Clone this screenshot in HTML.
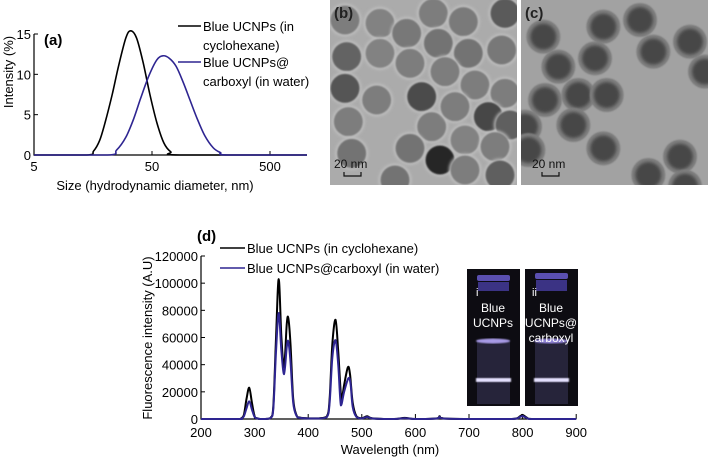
<!DOCTYPE html>
<html><head><meta charset="utf-8">
<style>
html,body{margin:0;padding:0;background:#fff;}
svg{display:block;font-family:"Liberation Sans",Arial,sans-serif;}
</style></head>
<body>
<svg id="fig" width="710" height="460" viewBox="0 0 710 460" xmlns="http://www.w3.org/2000/svg">
<defs>
<filter id="blur1"><feGaussianBlur stdDeviation="0.8"/></filter>
<filter id="blur2"><feGaussianBlur stdDeviation="1.5"/></filter>
</defs>
<g id="pa">
  <text x="44" y="45" font-size="15" font-weight="bold">(a)</text>
  <text transform="translate(13,72) rotate(-90)" text-anchor="middle" font-size="13">Intensity (%)</text>
  <text x="155" y="190" text-anchor="middle" font-size="13">Size (hydrodynamic diameter, nm)</text>
  <g id="pa-axes"></g>
  <g id="pa-lines"></g>
  <line x1="178" y1="26" x2="201" y2="26" stroke="#000" stroke-width="1.5"/>
  <text x="203" y="31" font-size="13">Blue UCNPs (in</text>
  <text x="203" y="50" font-size="13">cyclohexane)</text>
  <line x1="178" y1="62" x2="201" y2="62" stroke="#2e2591" stroke-width="1.5"/>
  <text x="203" y="67" font-size="13">Blue UCNPs@</text>
  <text x="203" y="86" font-size="13">carboxyl (in water)</text>
</g>
<g>
  <clipPath id="cb"><rect x="330" y="0" width="187" height="185"/></clipPath>
  <rect x="330" y="0" width="187" height="185" fill="#ababab"/>
  <g id="tb" clip-path="url(#cb)"></g>
  <text x="334" y="18" font-size="15" font-weight="bold" fill="#222">(b)</text>
  <text x="334" y="168" font-size="12" fill="#111">20 nm</text>
  <path d="M344 172 v4 h17 v-4" stroke="#111" stroke-width="1.2" fill="none"/>
</g>
<g>
  <clipPath id="cc"><rect x="521" y="0" width="187" height="185"/></clipPath>
  <rect x="521" y="0" width="187" height="185" fill="#a2a2a2"/>
  <g id="tc" clip-path="url(#cc)"></g>
  <text x="525" y="18" font-size="15" font-weight="bold" fill="#222">(c)</text>
  <text x="532" y="168" font-size="12" fill="#111">20 nm</text>
  <path d="M542 172 v4 h17 v-4" stroke="#111" stroke-width="1.2" fill="none"/>
</g>
<g>
  <text x="197" y="241" font-size="15" font-weight="bold">(d)</text>
  <text transform="translate(152,338) rotate(-90)" text-anchor="middle" font-size="13">Fluorescence intensity (A.U)</text>
  <text x="390" y="454" text-anchor="middle" font-size="13">Wavelength (nm)</text>
  <g id="pd-axes"></g>
  <g id="pd-lines"></g>
  <line x1="220" y1="248" x2="245" y2="248" stroke="#000" stroke-width="1.5"/>
  <text x="247" y="253" font-size="13">Blue UCNPs (in cyclohexane)</text>
  <line x1="220" y1="268" x2="245" y2="268" stroke="#2e2591" stroke-width="1.5"/>
  <text x="247" y="273" font-size="13">Blue UCNPs@carboxyl (in water)</text>
  <g>
    <rect x="467" y="269" width="53" height="137" fill="#0d0c12"/>
    <rect x="477" y="275" width="33" height="6" rx="2" fill="#5a4fb0"/>
    <rect x="478" y="282" width="31" height="9" fill="#3b3384"/>
    <rect x="477" y="340" width="33" height="64" fill="#26243a"/>
    <ellipse cx="493" cy="341" rx="17" ry="2.5" fill="#a79ae6" filter="url(#blur1)"/>
    <rect x="476" y="378" width="35" height="4" fill="#e6e2ff" filter="url(#blur1)"/>
    <text x="476" y="296" font-size="11" fill="#fff">i</text>
    <text x="493" y="312" font-size="12" fill="#fff" text-anchor="middle">Blue</text>
    <text x="493" y="327" font-size="12" fill="#fff" text-anchor="middle">UCNPs</text>
  </g>
  <g>
    <rect x="525" y="269" width="53" height="137" fill="#0d0c12"/>
    <rect x="535" y="273" width="33" height="6" rx="2" fill="#5a4fb0"/>
    <rect x="536" y="280" width="31" height="11" fill="#3b3384"/>
    <rect x="535" y="340" width="33" height="64" fill="#26243a"/>
    <ellipse cx="551" cy="341" rx="17" ry="2.5" fill="#8f82d6" filter="url(#blur1)"/>
    <rect x="534" y="378" width="35" height="4" fill="#e6e2ff" filter="url(#blur1)"/>
    <text x="532" y="296" font-size="11" fill="#fff">ii</text>
    <text x="551" y="312" font-size="12" fill="#fff" text-anchor="middle">Blue</text>
    <text x="551" y="327" font-size="12" fill="#fff" text-anchor="middle">UCNPs@</text>
    <text x="551" y="342" font-size="12" fill="#fff" text-anchor="middle">carboxyl</text>
  </g>
</g>
</svg>
<script>
const aXTicks = [5, 50, 500];
const aYTicks = [0, 5, 10, 15];
const aSizesBlack = [14,16,18,20,23,26,30,33,37,42,48,55,63,72,86];
const aIntBlack = [0,0.5,1.8,4,7.5,11,14.5,15.4,14.5,11.5,7.5,4,1.5,0.4,0];
const aSizesBlue = [21,25,30,35,40,47,55,62,70,80,92,105,120,140,165,190,220];
const aIntBlue = [0,0.6,2.2,4.5,7,9.8,11.8,12.3,12,11,9,6.8,4.6,2.4,0.9,0.3,0];
const dXTicks = [200,300,400,500,600,700,800,900];
const dYTicks = [0,20000,40000,60000,80000,100000,120000];
const dWaveBlack = [200,270,275,280,285,290,295,300,305,310,320,330,335,340,345,350,355,360,363,367,372,378,385,400,420,435,440,445,451,456,462,467,474,478,483,490,500,510,520,560,580,600,640,645,652,700,780,795,800,808,820,900];
const dIntBlack = [0,0,500,3000,15000,23000,12000,2000,500,0,0,1000,10000,60000,103000,60000,38000,70000,74000,55000,15000,3000,1000,500,500,2000,15000,55000,73000,50000,14000,25000,38000,33000,12000,2000,500,2000,500,0,800,0,500,2000,500,0,0,2000,3000,1000,0,0];
const dWaveBlue = [200,270,275,280,285,290,295,300,305,310,320,330,335,340,345,350,355,360,363,367,372,378,385,400,420,435,440,445,451,456,461,467,475,479,483,490,500,510,520,560,580,600,640,645,652,700,780,795,800,808,820,900];
const dIntBlue = [0,0,300,2000,8000,13000,7000,1500,400,0,0,800,8000,50000,78000,50000,33000,53000,57000,42000,12000,2500,800,400,400,1500,12000,45000,58000,40000,10000,20000,30000,26000,9000,1500,400,1500,400,0,600,0,400,1500,400,0,0,1500,2200,800,0,0];

const NS = "http://www.w3.org/2000/svg";
function mk(tag, attrs, parent){const e=document.createElementNS(NS,tag);for(const k in attrs)e.setAttribute(k,attrs[k]);parent.appendChild(e);return e;}
function smooth(pts){
  let d='M'+pts[0][0].toFixed(2)+' '+pts[0][1].toFixed(2);
  for(let i=0;i<pts.length-1;i++){
    const p0=pts[Math.max(0,i-1)],p1=pts[i],p2=pts[i+1],p3=pts[Math.min(pts.length-1,i+2)];
    let c1y=p1[1]+(p2[1]-p0[1])/6, c2y=p2[1]-(p3[1]-p1[1])/6;
    const lo=Math.min(p1[1],p2[1])-2, hi=Math.max(p1[1],p2[1])+2;
    c1y=Math.max(Math.min(c1y,hi+6),lo-6); c2y=Math.max(Math.min(c2y,hi+6),lo-6);
    const base=Math.max(p1[1],p2[1]); // do not dip below baseline
    c1y=Math.min(c1y,Math.max(p0[1],p1[1],p2[1],p3[1])); c2y=Math.min(c2y,Math.max(p0[1],p1[1],p2[1],p3[1]));
    d+=' C'+(p1[0]+(p2[0]-p0[0])/6).toFixed(2)+' '+c1y.toFixed(2)+' '+(p2[0]-(p3[0]-p1[0])/6).toFixed(2)+' '+c2y.toFixed(2)+' '+p2[0].toFixed(2)+' '+p2[1].toFixed(2);
  }
  return d;
}

const ax = v => 34 + 118*Math.log10(v/5);
const ay = v => 155 - 121/15*v;
const gA = document.getElementById('pa-axes');
let e = mk('path',{d:'M34 34 V155 H307',stroke:'#000','stroke-width':1.2,fill:'none'},gA);


aXTicks.forEach(t=>{
  const x=ax(t);
  let l=mk('line',{x1:x,y1:155,x2:x,y2:151,stroke:'#000'},gA);
  
  
  let tx=mk('text',{x:x,y:171,'text-anchor':'middle','font-size':13},gA);tx.textContent=t;
  
  
});
aYTicks.forEach(t=>{
  const y=ay(t);
  let l=mk('line',{x1:34,y1:y,x2:38,y2:y,stroke:'#000'},gA);
  
  
  let tx=mk('text',{x:31,y:y+5,'text-anchor':'end','font-size':13},gA);tx.textContent=t;
  
  
});
function lineA(sz, iv, col, name){
  const pts=[[ax(5),ay(0)]];
  sz.forEach((s,i)=>pts.push([ax(s),ay(iv[i])]));
  pts.push([307,ay(0)]);
  const p=mk('path',{d:smooth(pts),fill:'none',stroke:col,'stroke-width':1.6,'stroke-linejoin':'round'},document.getElementById('pa-lines'));
  
  
}
lineA(aSizesBlack,aIntBlack,'#000','series-cyclohexane-a');
lineA(aSizesBlue,aIntBlue,'#2e2591','series-water-a');

const dx = v => 201 + (v-200)*0.536;
const dy = v => 419 - v*163/120000;
const gD = document.getElementById('pd-axes');
e = mk('path',{d:'M201 256 V419 H576',stroke:'#000','stroke-width':1.2,fill:'none'},gD);


dXTicks.forEach(t=>{
  const x=dx(t);
  let l=mk('line',{x1:x,y1:419,x2:x,y2:414,stroke:'#000'},gD);
  
  
  let tx=mk('text',{x:x,y:437,'text-anchor':'middle','font-size':13},gD);tx.textContent=t;
  
  
});
dYTicks.forEach(t=>{
  const y=dy(t);
  let l=mk('line',{x1:201,y1:y,x2:205,y2:y,stroke:'#000'},gD);
  
  
  let tx=mk('text',{x:198,y:y+5,'text-anchor':'end','font-size':13},gD);tx.textContent=t;
  
  
});
function lineD(w, iv, col, name){
  const pts=w.map((s,i)=>[dx(s),dy(iv[i])]);
  const p=mk('path',{d:smooth(pts),fill:'none',stroke:col,'stroke-width':2,'stroke-linejoin':'round'},document.getElementById('pd-lines'));
  
  
}
lineD(dWaveBlack,dIntBlack,'#000','series-cyclohexane-d');
lineD(dWaveBlue,dIntBlue,'#2e2591','series-water-d');

const tbP=[[60,60,125],[165,70,130],[245,100,120],[325,40,125],[415,65,122],[540,40,90],[65,170,100],[165,160,130],[255,190,125],[340,130,115],[430,160,115],[530,150,120],[60,265,85],[155,300,125],[290,290,75],[360,215,125],[450,255,125],[540,280,125],[70,365,125],[320,380,125],[390,320,125],[490,350,70],[555,375,95],[255,445,115],[345,480,40],[420,420,130],[510,440,125],[80,460,115],[420,510,125],[525,525,95],[210,540,115]];
const gb=document.getElementById('tb');
tbP.forEach(p=>{
  const g=p[2];
  mk('circle',{cx:325+p[0]/3,cy:p[1]/3,r:16,fill:'#c4c4c4',filter:'url(#blur2)'},gb);
  let c=mk('circle',{cx:325+p[0]/3,cy:p[1]/3,r:14.5,fill:`rgb(${g},${g},${g})`,filter:'url(#blur1)'},gb);
  
  
});
const tcP=[[655,110],[835,80],[945,60],[1095,125],[985,155],[700,200],[810,175],[660,300],[760,285],[845,285],[745,375],[835,445],[1065,470],[970,525],[600,380],[1140,215],[610,450],[1080,560]];
const gc=document.getElementById('tc');
tcP.forEach(p=>{
  mk('circle',{cx:325+p[0]/3,cy:p[1]/3,r:17,fill:'#7e7e7e',filter:'url(#blur1)'},gc);
  let c=mk('circle',{cx:325+p[0]/3,cy:p[1]/3,r:13,fill:'#474747',filter:'url(#blur2)'},gc);
  
  
});
</script>
</body></html>
